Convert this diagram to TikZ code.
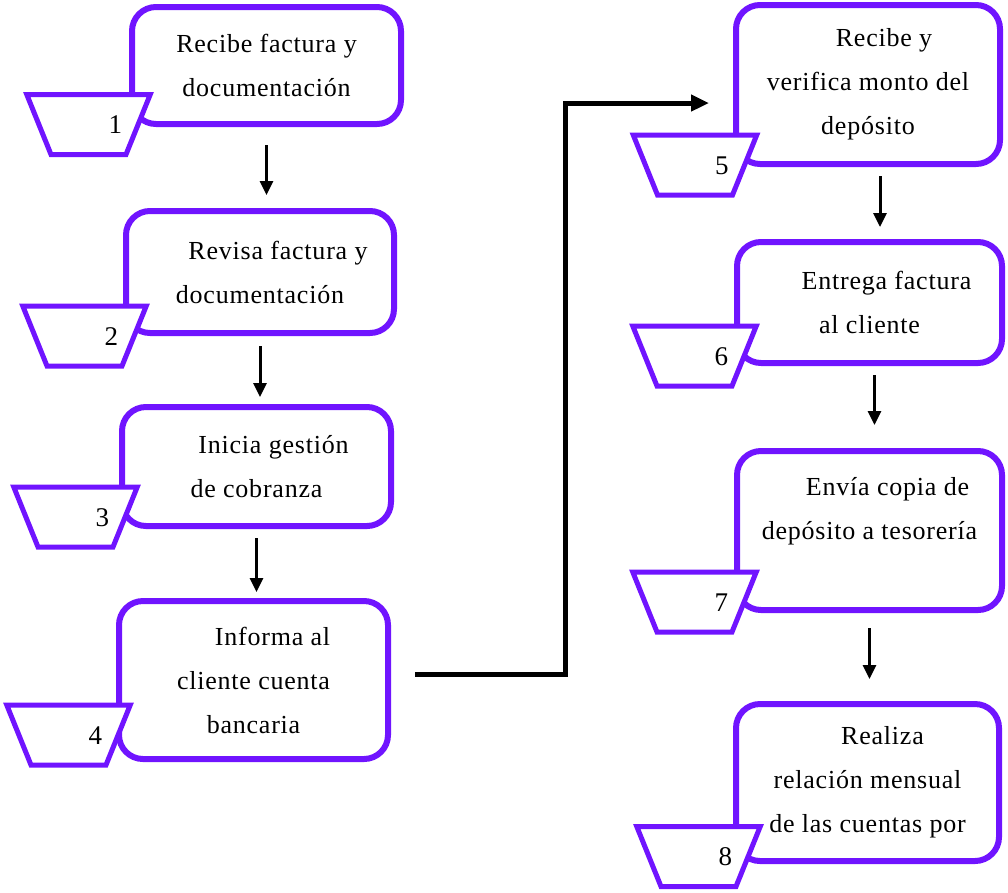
\documentclass[tikz,border=0pt]{standalone}
\usepackage{fontspec}
\setmainfont{Liberation Serif}[LetterSpace=3]
\usepackage{tikz}
\usetikzlibrary{shapes.geometric,arrows.meta}
\definecolor{violeta}{RGB}{112,20,255}

\begin{document}
\begin{tikzpicture}[
	x=1pt, y=-1pt
	,caja/.style={draw=violeta, line width=6pt, rounded corners=24pt, inner sep=0pt, align=center, font=\fontsize{26}{44}\selectfont}
	,num/.style={trapezium, shape border rotate=180, trapezium left angle=68, trapezium right angle=68, draw=violeta, line width=5pt, fill=white, text width=67pt, align=right, inner xsep=4pt, inner ysep=21pt, text height=18pt, text depth=0pt, font=\fontsize{27}{30}\selectfont}
	,flecha/.style={line width=3pt, -{Triangle[width=13pt,length=14pt]}}
	,conector/.style={line width=5pt, -{Triangle[width=16pt,length=18pt]}}
]
	\useasboundingbox (0,0) rectangle (1008,892);

	\node [caja, minimum width=269pt, minimum height=117pt] (A) at (266.5,65.5) {Recibe factura y\\documentación};
	\node [caja, minimum width=268pt, minimum height=122pt] (B) at (260,272) {\hspace*{36pt}Revisa factura y\\documentación};
	\node [caja, minimum width=269pt, minimum height=119pt] (C) at (256.5,466.5) {\hspace*{34pt}Inicia gestión\\de cobranza};
	\node [caja, minimum width=269pt, minimum height=158pt] (D) at (253.5,680) {\hspace*{38pt}Informa al\\cliente cuenta\\bancaria};
	\node [caja, minimum width=264pt, minimum height=159pt] (E) at (868,84.5) {\hspace*{32pt}Recibe y\\verifica monto del\\depósito};
	\node [caja, minimum width=265pt, minimum height=121pt] (F) at (869.5,302.5) {\hspace*{34pt}Entrega factura\\al cliente};
	\node [caja, minimum width=265pt, minimum height=159pt] (G) at (869.5,530.5) {\hspace*{36pt}Envía copia de\\depósito a tesorería\\\mbox{}};
	\node [caja, minimum width=263pt, minimum height=157pt] (H) at (867.5,782.5) {\hspace*{30pt}Realiza\\relación mensual\\de las cuentas por};

	\node [num] (a) at (88.5,124.5) {1};
	\node [num] (b) at (84.5,336) {2};
	\node [num] (c) at (75.5,517) {3};
	\node [num] (d) at (68.5,735) {4};
	\node [num] (e) at (695,165) {5};
	\node [num] (f) at (694.5,356) {6};
	\node [num] (g) at (694.5,602) {7};
	\node [num] (h) at (698.5,856.5) {8};

	\draw [flecha, shorten <=18pt, shorten >=13pt] (A.south) -- (A.south |- B.north);
	\draw [flecha, shorten <=10pt, shorten >=7pt] (B.south) -- (B.south |- C.north);
	\draw [flecha, shorten <=9pt, shorten >=6pt] (C.south) -- (C.south |- D.north);
	\draw [conector] ([xshift=24pt,yshift=6pt]D.east) -- ++(150,0) |- ([xshift=-24pt,yshift=-18.5pt]E.west);
	\draw [flecha, shorten <=9pt, shorten >=12pt] ([xshift=12pt]E.south) -- ([xshift=12pt]E.south |- F.north);
	\draw [flecha, shorten <=9pt, shorten >=23pt] ([xshift=5pt]F.south) -- ([xshift=5pt]F.south |- G.north);
	\draw [flecha, shorten <=15pt, shorten >=22pt] (G.south) -- (G.south |- H.north);
\end{tikzpicture}
\end{document}
